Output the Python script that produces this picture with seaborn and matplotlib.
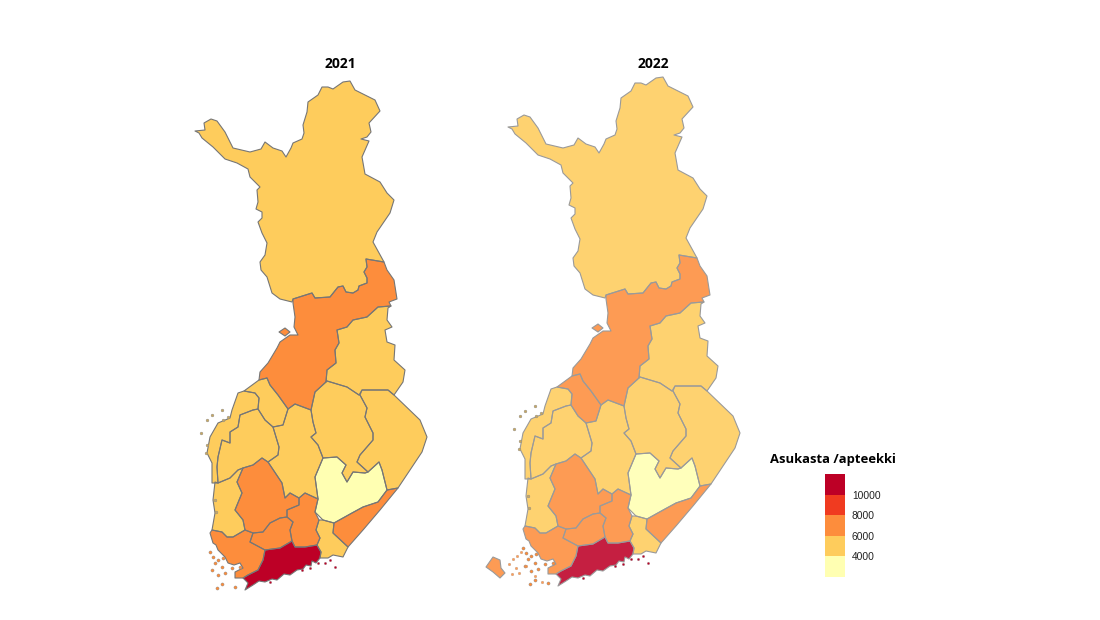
import numpy as np
import pandas as pd
import matplotlib
matplotlib.use("Agg")
import matplotlib.pyplot as plt
import seaborn as sns
from matplotlib.colors import ListedColormap
from matplotlib.patches import Polygon

# Finnish regions: residents per pharmacy
REGIONS = ["Lappi", "Pohjois-Pohjanmaa", "Kainuu", "Pohjois-Karjala", "Pohjois-Savo",
           "Etela-Savo", "Etela-Karjala", "Kymenlaakso", "Paijat-Hame", "Kanta-Hame",
           "Pirkanmaa", "Keski-Suomi", "Satakunta", "Etela-Pohjanmaa", "Pohjanmaa",
           "Keski-Pohjanmaa", "Varsinais-Suomi", "Uusimaa", "Ahvenanmaa"]
VALUES_2021 = [5100, 6900, 5000, 5300, 5000, 3600, 6600, 5300, 6800, 6900,
               6900, 5400, 5200, 5100, 5100, 5500, 6500, 10600, np.nan]
VALUES_2022 = [5000, 6800, 4900, 5200, 4900, 3600, 6500, 5300, 6700, 6800,
               6900, 5400, 5200, 5000, 5100, 6200, 6500, 10400, 6500]

BIN_EDGES = [0, 4000, 6000, 8000, 10000, 20000]
BIN_COLORS = ["#ffffb2", "#fecc5c", "#fd8d3c", "#f03b20", "#bd0026"]
LEGEND_TICKS = [10000, 8000, 6000, 4000]

# Region outlines (map units)
LAPPI = [(195,131),(205,130),(204,123),(211,119),(217,121),(225,132),(233,148),(250,152),(261,149),
         (265,142),(273,148),(282,151),(286,157),(291,148),(293,143),(302,139),(304,133),(303,125),
         (307,112),(308,102),(318,95),(322,87),(328,87),(333,89),(343,82),(350,81),(355,90),(375,100),
         (380,111),(369,123),(371,132),(367,137),(361,139),(369,141),(362,157),(365,174),(380,182),
         (387,193),(394,200),(390,213),(377,232),(373,242),(384,262),(366,259),(367,267),(364,272),
         (367,278),(367,283),(359,286),(358,290),(353,293),(346,292),(343,286),(338,287),(330,297),
         (315,298),(312,293),(293,299),(292,302),(280,299),(272,293),(267,277),(261,270),(260,262),
         (265,255),(267,243),(262,233),(258,222),(262,218),(262,212),(256,209),(258,202),(257,190),
         (260,187),(250,177),(248,169),(237,163),(225,159),(213,147),(202,138),(199,133)]
POHJOIS_POHJANMAA = [(293,299),(312,293),(315,298),(330,297),(338,287),(343,286),(346,292),(353,293),
                     (358,290),(359,286),(367,283),(367,278),(364,272),(367,267),(366,259),(384,262),
                     (387,270),(394,280),(397,299),(389,302),(391,306),(378,307),(367,317),(353,320),
                     (347,327),(337,330),(339,343),(335,350),(336,363),(327,370),(326,382),(315,392),
                     (311,410),(295,404),(288,409),(278,395),(270,385),(267,378),(259,380),(260,372),
                     (268,363),(277,348),(280,342),(290,335),(298,335),(294,327),(295,317),(293,303)]
HAILUOTO = [(279,332),(285,328),(290,332),(285,336)]
KAINUU = [(391,306),(388,308),(387,320),(392,327),(385,330),(387,342),(395,345),(394,360),(405,370),
          (403,382),(394,395),(388,390),(362,390),(359,395),(347,387),(327,381),(326,382),(327,370),
          (336,363),(335,350),(339,343),(337,330),(347,327),(353,320),(367,317),(378,307)]
POHJOIS_KARJALA = [(394,395),(420,420),(427,437),(422,452),(398,488),(387,490),(382,470),(379,462),
                   (368,472),(357,462),(360,455),(373,440),(373,433),(365,417),(367,408),(360,395),
                   (362,390),(388,390)]
POHJOIS_SAVO = [(359,395),(347,387),(327,381),(315,392),(311,410),(313,422),(316,433),(311,437),(318,445),
                (323,458),(337,457),(346,465),(342,473),(347,482),(353,472),(365,473),(368,472),(357,462),
                (360,455),(373,440),(373,433),(365,417),(367,408),(360,395)]
ETELA_SAVO = [(323,458),(337,457),(346,465),(342,473),(347,482),(353,472),(365,473),(368,472),(379,462),
              (382,470),(387,490),(378,502),(363,507),(352,513),(334,523),(323,520),(315,512),(318,499),
              (315,477)]
ETELA_KARJALA = [(398,488),(387,490),(378,502),(363,507),(352,513),(334,523),(333,533),(348,547),(363,530),
                 (380,510)]
KYMENLAAKSO = [(319,520),(323,520),(334,523),(333,533),(348,547),(343,557),(333,555),(328,558),(320,558),
               (321,552),(317,545),(320,538),(316,530)]
PAIJAT_HAME = [(318,499),(305,493),(299,498),(299,505),(287,510),(287,517),(293,522),(290,530),(292,541),
               (295,547),(305,547),(317,545),(320,538),(316,530),(319,520),(315,512)]
KANTA_HAME = [(287,517),(293,522),(290,530),(292,541),(280,548),(265,550),(250,542),(253,533),(263,532),
              (270,523),(280,518)]
PIRKANMAA = [(262,458),(268,462),(282,483),(285,498),(290,493),(299,498),(299,505),(287,510),(287,517),
             (280,518),(270,523),(263,532),(253,533),(245,530),(243,520),(235,510),(242,493),(237,482),
             (243,468),(253,465)]
KESKI_SUOMI = [(295,404),(311,410),(313,422),(316,433),(311,437),(318,445),(323,458),(315,477),(318,499),
               (305,493),(299,498),(290,493),(285,498),(282,483),(268,462),(278,455),(279,447),(273,427),
               (283,425),(288,409)]
SATAKUNTA = [(243,468),(237,482),(242,493),(235,510),(243,520),(245,530),(233,537),(227,537),(222,532),
             (212,530),(215,513),(213,500),(215,482),(218,483),(230,478),(238,470)]
ETELA_POHJANMAA = [(218,483),(230,478),(238,470),(243,468),(253,465),(262,458),(268,462),(278,455),(279,447),
                   (273,427),(265,420),(258,409),(253,410),(240,415),(238,427),(230,432),(230,443),(222,440),
                   (218,457),(217,467)]
POHJANMAA = [(244,391),(238,393),(232,410),(230,418),(218,423),(210,437),(207,453),(212,463),(212,483),
             (218,483),(217,467),(218,457),(222,440),(230,443),(230,432),(238,427),(240,415),(253,410),
             (258,409),(259,398),(255,393)]
KESKI_POHJANMAA = [(244,391),(259,380),(267,378),(270,385),(278,395),(288,409),(283,425),(273,427),(265,420),
                   (258,409),(259,398),(255,393)]
VARSINAIS_SUOMI = [(212,530),(222,532),(227,537),(233,537),(245,530),(253,533),(250,542),(265,550),(263,560),
                   (258,570),(248,575),(243,578),(235,578),(235,572),(243,568),(240,563),(234,565),(228,563),
                   (225,557),(218,550),(216,545),(213,543),(210,533)]
UUSIMAA = [(265,550),(280,548),(292,541),(295,547),(305,547),(317,545),(321,552),(320,558),(316,563),(312,561),
           (311,566),(306,565),(303,569),(297,570),(290,575),(284,574),(277,580),(272,579),(265,582),(259,581),
           (253,585),(245,590),(248,583),(243,578),(248,575),(258,570),(263,560)]
AHVENANMAA = [(173,571),(180,561),(187,564),(188,572),(192,577),(187,582),(180,576)]

REGION_SHAPES = [[LAPPI], [POHJOIS_POHJANMAA, HAILUOTO], [KAINUU], [POHJOIS_KARJALA], [POHJOIS_SAVO],
                 [ETELA_SAVO], [ETELA_KARJALA], [KYMENLAAKSO], [PAIJAT_HAME], [KANTA_HAME],
                 [PIRKANMAA], [KESKI_SUOMI], [SATAKUNTA], [ETELA_POHJANMAA], [POHJANMAA],
                 [KESKI_POHJANMAA], [VARSINAIS_SUOMI], [UUSIMAA], [AHVENANMAA]]

# Skerries along the coast, (x, y) per group
ISLES_WEST_X = [207, 212, 222, 228, 223, 201, 207, 206, 215, 216]
ISLES_WEST_Y = [420, 415, 410, 417, 420, 433, 445, 453, 500, 512]
ISLES_SW_X = [210, 213, 218, 223, 215, 222, 212, 218, 225, 232, 240, 222, 217, 235]
ISLES_SW_Y = [552, 557, 560, 558, 563, 567, 570, 575, 573, 568, 567, 584, 588, 587]
ISLES_SOUTH_X = [270, 302, 310, 318, 325, 335, 330]
ISLES_SOUTH_Y = [582, 570, 568, 563, 563, 567, 560]
ISLES_ALAND_X = [196, 200, 204, 208, 203, 199, 213, 206, 222, 229]
ISLES_ALAND_Y = [568, 563, 560, 556, 572, 578, 570, 577, 580, 586]


def bin_color(value):
    idx = pd.cut([value], BIN_EDGES, labels=False)[0]
    return BIN_COLORS[int(idx)]


def draw_map(data, **kwargs):
    ax = plt.gca()
    year = data["vuosi"].iloc[0]
    alpha = 1.0 if year == 2021 else 0.88
    edge = "#767676" if year == 2021 else "#9a9a9a"
    for _, row in data.iterrows():
        if np.isnan(row["asukasta"]):
            continue
        for shape in REGION_SHAPES[REGIONS.index(row["maakunta"])]:
            ax.add_patch(Polygon(shape, closed=True, facecolor=bin_color(row["asukasta"]), alpha=alpha,
                                 edgecolor="none", zorder=2))
            ax.add_patch(Polygon(shape, closed=True, fill=False, edgecolor=edge, linewidth=0.8,
                                 joinstyle="round", zorder=3))
    # small islands
    sns.scatterplot(x=ISLES_WEST_X, y=ISLES_WEST_Y, color="#c9a860", s=4, edgecolor="#8a8a8a",
                    linewidth=0.3, ax=ax, legend=False, zorder=4)
    sns.scatterplot(x=ISLES_SW_X, y=ISLES_SW_Y, color=BIN_COLORS[2], s=5, edgecolor="#8a8a8a",
                    linewidth=0.3, ax=ax, legend=False, zorder=4)
    sns.scatterplot(x=ISLES_SOUTH_X, y=ISLES_SOUTH_Y, color=BIN_COLORS[4], s=3, edgecolor="#8a8a8a",
                    linewidth=0.2, ax=ax, legend=False, zorder=4)
    if year == 2022:
        sns.scatterplot(x=ISLES_ALAND_X, y=ISLES_ALAND_Y, color=BIN_COLORS[2], s=4, edgecolor="#a0a0a0",
                        linewidth=0.2, ax=ax, legend=False, zorder=4, alpha=0.85)


sns.set_theme(style="white")
plt.rcParams["font.family"] = ["Open Sans", "DejaVu Sans"]

df = pd.concat([
    pd.DataFrame({"maakunta": REGIONS, "asukasta": VALUES_2021, "vuosi": 2021}),
    pd.DataFrame({"maakunta": REGIONS, "asukasta": VALUES_2022, "vuosi": 2022}),
])

g = sns.FacetGrid(df, col="vuosi", height=5.2, aspect=0.65, sharex=False, sharey=False)
g.map_dataframe(draw_map)
g.set_titles("{col_name}", fontweight="bold", size=10, color="black", pad=3)
fig = g.figure
fig.set_size_inches(11, 6.2)
W, H = 1100.0, 620.0

# map area in pixels: same size for both, second one moved right and slightly up
for ax, left, dy in zip(g.axes.flat, [170, 483], [0, 4]):
    ax.set_position([left / W, 1 - 600 / H, 340 / W, 528 / H])
    ax.set_xlim(170, 510)
    ax.set_ylim(600 + dy, 72 + dy)
    ax.set_xlabel("")
    ax.set_ylabel("")
    ax.set_axis_off()
    ax.title.set_visible(True)

# binned legend
lax = fig.add_axes([825 / W, 1 - 577 / H, 20 / W, 103 / H])
levels = np.array([[4], [3], [2], [1], [0]])
sns.heatmap(levels, cmap=ListedColormap(BIN_COLORS), vmin=-0.5, vmax=4.5, cbar=False, ax=lax,
            xticklabels=False, yticklabels=False)
lax.yaxis.tick_right()
lax.set_yticks(range(1, 5))
lax.set_yticklabels(LEGEND_TICKS, rotation=0, fontsize=7.4, family="Liberation Sans", color="#222222")
lax.tick_params(axis="y", length=0, pad=5)
fig.text(833 / W, 1 - 459 / H, "Asukasta /apteekki", ha="center", va="center", fontsize=9.4,
         fontweight="bold", color="black")

fig.savefig("out.png", dpi=100, facecolor="white")
